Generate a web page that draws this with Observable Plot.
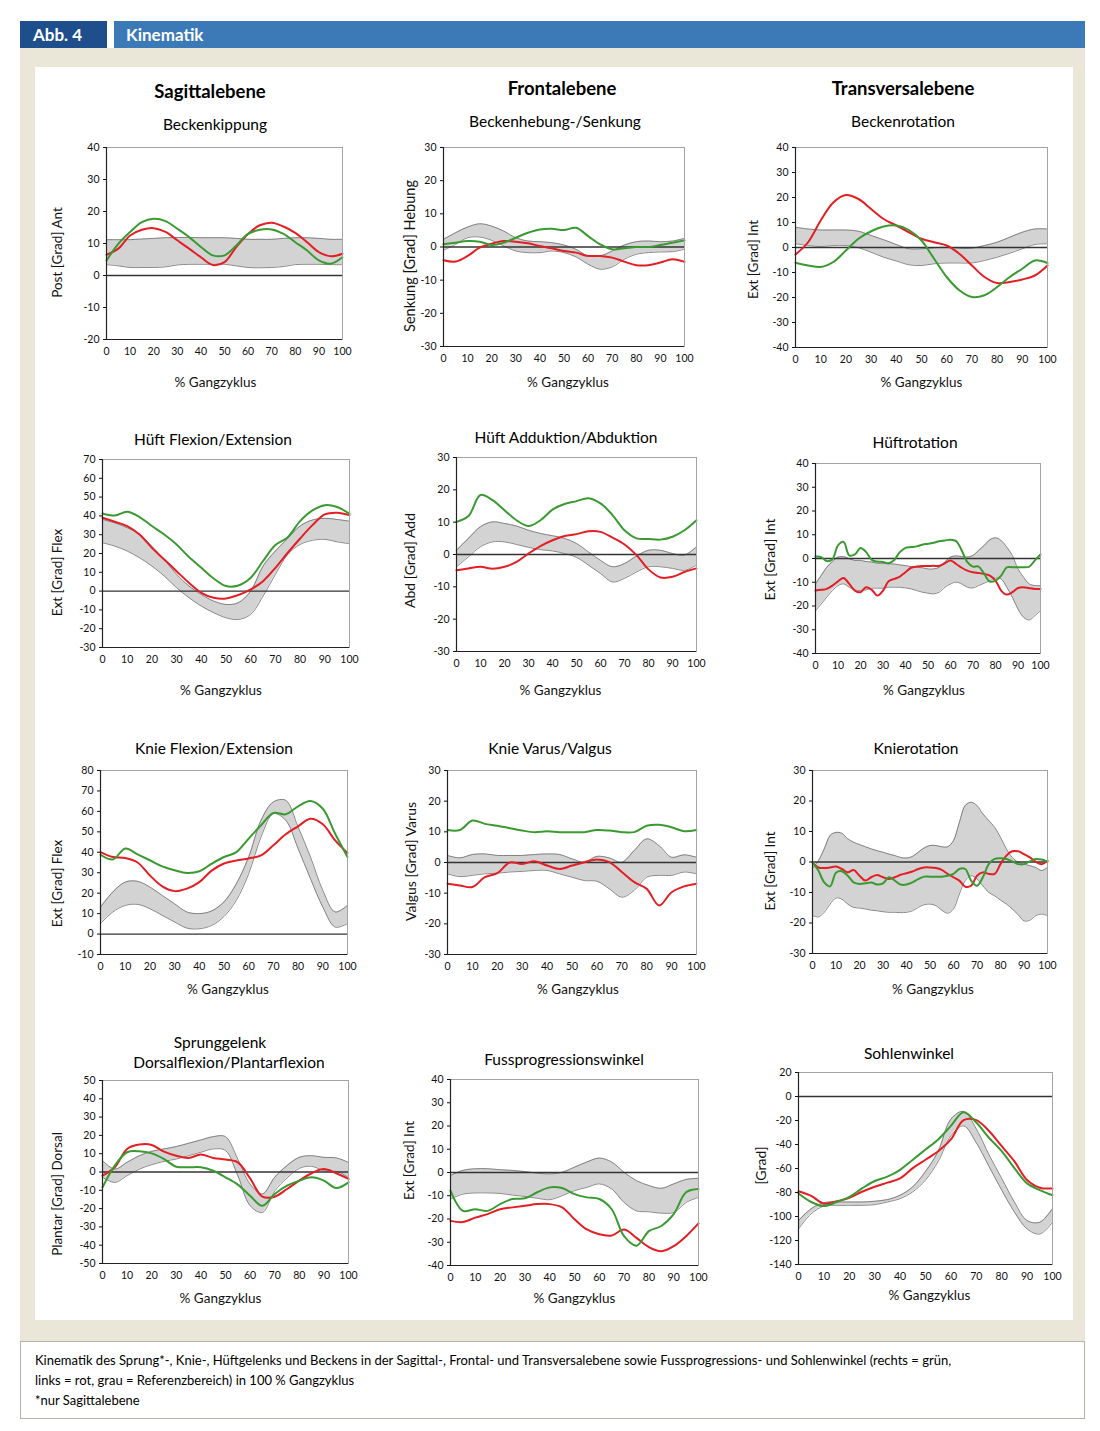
<!DOCTYPE html>
<html lang="de">
<head>
<meta charset="utf-8">
<script src="https://cdn.jsdelivr.net/npm/d3@7"></script>
<script src="https://cdn.jsdelivr.net/npm/@observablehq/plot@0.6"></script>
<style>
html,body{margin:0;padding:0;background:#fff;}
#page{position:relative;width:1100px;height:1431px;font-family:Lato,"Open Sans",sans-serif;color:#000;overflow:hidden;}
.abs{position:absolute;}
.title{position:absolute;transform:translate(-50%,-50%);white-space:nowrap;font-size:15.5px;line-height:1;}
.head{font-weight:bold;font-size:18.5px;}
</style>
</head>
<body>
<div id="page">
  <div class="abs" style="left:20px;top:48px;width:1065px;height:1293px;background:#ebe7d8;"></div>
  <div class="abs" style="left:35px;top:67px;width:1038px;height:1253px;background:#fff;"></div>
  <div class="abs" style="left:20px;top:1341px;width:1063px;height:76px;background:#fff;border:1px solid #b5b2a8;"></div>
  <div class="abs" style="left:20px;top:21px;width:87px;height:27px;background:#1e4e8c;"></div>
  <div class="abs" style="left:114px;top:21px;width:971px;height:27px;background:#3b79b7;"></div>
  <div class="abs" style="left:33px;top:21px;height:27px;line-height:27px;color:#fff;font-weight:bold;font-size:17px;">Abb. 4</div>
  <div class="abs" style="left:126px;top:21px;height:27px;line-height:27px;color:#fff;font-weight:bold;font-size:17px;">Kinematik</div>

  <div class="title head" style="left:210px;top:91px;">Sagittalebene</div>
  <div class="title head" style="left:562px;top:88px;">Frontalebene</div>
  <div class="title head" style="left:903px;top:88px;">Transversalebene</div>

  <div class="title" style="left:215px;top:125px;">Beckenkippung</div>
  <div class="title" style="left:555px;top:122px;">Beckenhebung-/Senkung</div>
  <div class="title" style="left:903px;top:122px;">Beckenrotation</div>
  <div class="title" style="left:213px;top:440px;">Hüft Flexion/Extension</div>
  <div class="title" style="left:566px;top:438px;">Hüft Adduktion/Abduktion</div>
  <div class="title" style="left:915px;top:443px;">Hüftrotation</div>
  <div class="title" style="left:214px;top:749px;">Knie Flexion/Extension</div>
  <div class="title" style="left:550px;top:749px;">Knie Varus/Valgus</div>
  <div class="title" style="left:916px;top:749px;">Knierotation</div>
  <div class="title" style="left:220px;top:1043px;">Sprunggelenk</div>
  <div class="title" style="left:229px;top:1063px;">Dorsalflexion/Plantarflexion</div>
  <div class="title" style="left:564px;top:1060px;">Fussprogressionswinkel</div>
  <div class="title" style="left:909px;top:1054px;">Sohlenwinkel</div>

  <div class="abs" style="left:35px;top:1350px;font-size:13px;line-height:20px;white-space:nowrap;">Kinematik des Sprung*-, Knie-, Hüftgelenks und Beckens in der Sagittal-, Frontal- und Transversalebene sowie Fussprogressions- und Sohlenwinkel (rechts = grün,<br>links = rot, grau = Referenzbereich) in 100 % Gangzyklus<br>*nur Sagittalebene</div>
</div>
<script>
// ---------- x positions (% Gangzyklus) ----------
const pct = [0,5,10,15,20,25,30,35,40,45,50,55,60,65,70,75,80,85,90,95,100];
const pctFine = [0,2.5,5,7.5,10,12.5,15,17.5,20,22.5,25,27.5,30,32.5,35,37.5,40,42.5,45,47.5,50,52.5,55,57.5,60,62.5,65,67.5,70,72.5,75,77.5,80,82.5,85,87.5,90,92.5,95,97.5,100];
const xTickValues = [0,10,20,30,40,50,60,70,80,90,100];

// ---------- Beckenkippung ----------
const kippRechts = [4.7,9.9,13.6,16.7,17.7,17.0,14.6,12.0,8.9,6.3,6.3,9.4,13.0,14.3,14.4,13.0,10.4,7.8,4.7,3.7,5.7];
const kippLinks  = [6.5,8.4,12.5,14.3,14.8,13.6,11.0,8.4,5.7,3.3,4.2,8.9,13.0,15.7,16.5,15.3,13.3,10.4,7.3,6.0,6.8];
const kippRefLo  = [3.4,3.0,2.5,2.5,2.5,2.7,3.3,3.5,3.5,3.5,3.5,3.0,2.5,2.4,2.5,2.8,3.4,3.5,3.5,3.4,3.4];
const kippRefHi  = [11.2,11.2,11.2,11.4,11.6,11.8,11.9,11.9,11.8,11.8,11.8,11.6,11.3,11.3,11.3,11.6,11.8,11.8,11.6,11.3,11.3];

// ---------- Beckenhebung-/Senkung ----------
const hebRechts = [0.8,1.3,1.8,1.6,0.6,1.3,2.8,4.3,5.3,5.5,5.1,5.8,3.3,0.8,-0.7,-0.4,0,0,0.6,1.3,2.0];
const hebLinks  = [-4.0,-4.4,-2.7,-0.2,1.0,1.8,1.6,1.1,0.3,-0.4,-1.2,-1.7,-2.7,-2.7,-3.2,-4.4,-5.5,-5.5,-4.7,-3.7,-4.5];
const hebRefLo  = [-1.0,0.8,2.8,3.0,2.0,0.3,-1.2,-1.7,-1.7,-1.2,-1.7,-3.0,-5.2,-6.7,-6.0,-3.7,-2.2,-1.7,-1.5,-1.4,-0.7];
const hebRefHi  = [2.3,4.3,6.0,7.0,6.3,4.8,2.8,1.8,1.6,1.3,0.6,-0.7,-2.7,-2.7,-1.2,0.6,1.6,1.8,1.6,1.8,2.6];

// ---------- Beckenrotation ----------
const rotRechts = [-6.1,-7.2,-7.8,-5.8,-1.2,3.5,6.5,8.4,8.8,7.0,2.8,-4.5,-11.8,-17.1,-19.8,-19.1,-15.8,-11.8,-8.5,-5.2,-6.2];
const rotLinks  = [-2.8,2.1,10.8,18.0,21.0,19.4,15.4,11.4,8.8,6.1,3.5,2.1,0.8,-2.5,-7.2,-11.8,-14.2,-13.8,-12.8,-11.2,-7.2];
const rotRefLo  = [1.5,0.8,0.4,0.8,0.8,-0.1,-1.9,-3.9,-5.4,-6.9,-7.2,-6.5,-6.2,-6.2,-6.2,-5.2,-3.9,-2.3,-0.5,1.2,1.5];
const rotRefHi  = [8.1,7.4,7.0,7.0,7.0,6.5,4.8,3.1,1.2,-0.5,-0.5,-0.1,0.1,-0.3,-0.3,0.8,2.1,4.1,6.1,7.4,7.4];

// ---------- Hüft Flexion/Extension ----------
const hflexRechts = [41.3,40.2,42.2,39.4,34.6,30.1,24.8,18.1,12.4,6.7,2.7,3.0,7.1,16.0,24.5,28.7,37.2,42.9,45.7,44.7,41.1];
const hflexLinks  = [39.0,36.9,34.6,30.1,23.0,16.8,10.6,4.4,-0.9,-3.5,-3.9,-2.1,0.9,5.3,12.4,20.4,28.0,35.1,40.8,41.7,40.4];
const hflexRefLo  = [25.7,23.9,21.3,17.7,13.3,8.0,1.8,-3.5,-8.0,-11.5,-14.2,-15.1,-12.4,-2.7,8.9,19.5,24.8,27.0,27.5,26.2,25.2];
const hflexRefHi  = [38.1,36.3,33.7,30.1,23.9,16.8,8.9,2.7,-1.8,-5.3,-7.1,-6.2,0,13.3,21.3,28.0,34.6,37.8,38.7,38.1,37.2];

// ---------- Hüft Adduktion/Abduktion ----------
const haddRechts = [10.1,11.9,18.4,16.8,13.7,10.6,8.8,10.6,13.9,15.6,16.5,17.4,15.8,12.2,7.5,5.0,4.8,4.6,5.5,7.5,10.6];
const haddLinks  = [-4.9,-4.3,-3.8,-4.4,-3.8,-2.3,0.3,2.6,4.4,5.7,6.3,7.2,7.0,5.2,3.1,-0.2,-4.6,-7.1,-6.9,-5.4,-4.3];
const haddRefLo  = [-3.8,-0.7,2.4,3.9,3.9,3.1,2.2,1.5,1.1,0.3,-0.9,-3.3,-5.9,-8.5,-7.4,-5.4,-3.8,-3.8,-4.3,-4.9,-3.3];
const haddRefHi  = [1.3,5.0,8.6,10.1,9.6,8.8,7.5,6.5,5.8,5.0,3.4,0.8,-1.8,-3.8,-2.8,-0.5,1.3,1.3,0.3,-0.2,2.4];

// ---------- Hüftrotation (2.5 %-Schritte) ----------
const hrotRechts = [0.8,0.6,-1.1,-0.3,5.5,7.0,1.3,1.7,4.4,2.7,-0.6,-1.3,-1.5,-2.0,-0.6,2.7,4.5,4.8,5.1,5.8,6.2,6.6,7.3,7.6,7.9,7.3,3.4,-1.5,-3.4,-3.4,-6.5,-9.7,-9.3,-7.2,-3.7,-3.7,-3.7,-3.7,-3.4,-0.8,1.7];
const hrotLinks  = [-13.5,-13.2,-12.8,-11.4,-9.6,-8.2,-10.7,-13.5,-14.2,-12.1,-13.2,-15.6,-13.5,-9.6,-8.6,-7.6,-5.8,-3.9,-3.4,-3.2,-3.2,-3.1,-3.1,-2.0,-0.8,-2.3,-3.9,-5.1,-5.8,-6.1,-6.5,-7.2,-9.3,-13.5,-15.2,-14.2,-12.4,-12.1,-12.5,-12.8,-12.8];
const hrotRefLo  = [-22.0,-19.2,-16.3,-13.5,-11.4,-10.7,-12.1,-13.2,-13.5,-13.2,-12.5,-12.5,-12.5,-12.1,-12.1,-12.1,-12.4,-12.8,-13.5,-14.2,-14.6,-14.9,-14.2,-12.1,-10.7,-10.0,-10.7,-12.1,-12.4,-11.4,-10.4,-9.3,-8.2,-8.6,-12.1,-16.3,-21.3,-24.8,-25.9,-24.1,-22.0];
const hrotRefHi  = [-10.7,-7.2,-3.7,-1.3,0.6,0.8,-0.1,-0.8,-0.8,-1.3,-1.5,-2.0,-2.0,-2.3,-2.3,-2.7,-3.0,-3.4,-3.7,-3.9,-4.4,-4.4,-3.7,-1.5,0.6,1.1,0.8,0.6,1.3,3.4,5.5,7.9,8.7,7.6,4.8,1.3,-4.4,-7.9,-10.7,-11.4,-11.4];

// ---------- Knie Flexion/Extension ----------
const kflexRechts = [38.8,36.5,41.8,39.0,36.1,33.1,31.2,29.9,30.7,34.4,37.7,40.1,46.7,53.2,59.2,58.6,62.5,65.1,61.3,49.1,37.7];
const kflexLinks  = [40.1,37.7,37.2,35.0,28.7,23.3,21.0,22.2,25.4,31.0,34.5,36.0,37.0,38.5,43.4,48.8,52.7,56.4,53.7,45.8,39.6];
const kflexRefLo  = [5.1,10.8,14.0,14.5,12.4,9.1,5.9,2.9,2.6,4.2,8.6,16.5,29.5,47.5,58.9,55.6,41.8,27.1,13.2,3.4,5.1];
const kflexRefHi  = [13.2,20.6,25.4,25.8,23.0,18.9,14.8,10.8,10.0,11.3,15.7,24.6,37.7,55.6,64.6,65.4,52.4,37.7,21.4,10.8,14.0];

// ---------- Knie Varus/Valgus ----------
const kvarRechts = [10.6,10.6,13.7,12.6,12.0,11.2,10.4,9.9,10.2,9.9,9.9,9.9,10.6,10.4,9.9,9.9,12.0,12.3,11.5,10.2,10.6];
const kvarLinks  = [-6.9,-7.5,-8.0,-4.8,-3.5,0.0,-0.5,0.4,-1.0,-2.1,-1.0,0.1,1.0,0.1,-3.1,-6.4,-8.6,-14.0,-9.7,-7.8,-6.9];
const kvarRefLo  = [-3.7,-4.6,-4.2,-3.7,-3.5,-3.1,-2.9,-2.6,-2.6,-3.7,-4.8,-5.9,-6.1,-8.6,-11.3,-9.1,-4.8,-4.2,-4.2,-3.1,-3.7];
const kvarRefHi  = [2.3,1.5,2.6,2.8,2.3,2.3,2.3,2.6,2.8,2.6,1.2,0.1,2.0,1.5,0.1,3.9,7.7,5.5,1.7,2.5,1.7];

// ---------- Knierotation (2.5 %-Schritte) ----------
const krotRechts = [-0.1,-2.8,-6.7,-8.0,-3.5,-3.0,-4.5,-6.7,-7.2,-7.0,-6.7,-7.4,-7.0,-5.0,-6.1,-7.4,-7.4,-6.7,-5.6,-4.8,-4.8,-4.8,-4.8,-4.5,-3.9,-2.3,-2.3,-6.1,-7.8,-5.0,-0.7,1.0,1.2,1.0,0.2,-0.7,-0.7,0.2,1.0,0.8,0.1];
const krotLinks  = [-0.1,-1.8,-2.0,-1.8,-1.5,-2.3,-3.4,-2.6,-4.5,-6.1,-5.0,-4.3,-5.0,-5.6,-5.0,-4.2,-3.7,-3.1,-2.3,-1.8,-1.8,-2.0,-2.6,-3.9,-5.0,-6.1,-8.1,-7.8,-4.5,-3.4,-3.9,-3.9,-0.7,2.1,3.5,3.5,2.6,1.5,0.1,-0.7,0.4];
const krotRefLo  = [-17.6,-18.0,-16.5,-13.8,-11.8,-12.2,-13.8,-14.9,-15.1,-15.4,-15.8,-16.0,-16.3,-16.5,-16.5,-16.6,-16.5,-16.0,-14.9,-14.0,-13.8,-14.3,-15.8,-16.8,-15.4,-10.5,-6.1,-4.5,-5.6,-7.8,-10.0,-11.1,-12.5,-13.8,-15.4,-17.3,-19.3,-19.1,-17.6,-17.1,-17.6];
const krotRefHi  = [-2.0,0.4,4.3,8.7,9.7,9.4,7.6,6.5,5.7,5.0,4.3,3.7,3.2,2.6,2.1,1.5,1.3,1.8,3.2,4.6,5.4,5.4,5.0,5.0,7.0,13.0,18.5,19.6,18.5,15.8,13.6,11.4,8.1,4.3,1.5,-0.1,-0.7,-1.2,-1.8,-2.8,-1.8];

// ---------- Sprunggelenk Dorsal-/Plantarflexion ----------
const oshgRechts = [-8.4,3.5,10.8,11.3,10.2,7.1,2.9,2.6,2.6,0.7,-2.9,-6.9,-13.0,-18.4,-12.0,-7.5,-4.7,-2.9,-4.7,-8.8,-5.7];
const oshgLinks  = [-2.0,2.6,12.6,15.0,14.8,11.1,8.9,7.7,9.5,7.7,6.8,5.3,-3.5,-13.5,-13.5,-9.3,-4.7,-0.7,1.6,-0.7,-3.8];
const oshgRefLo  = [-2.9,-5.7,-2.0,1.6,4.0,5.8,7.1,8.9,10.8,12.6,11.7,-2.0,-18.4,-22.1,-10.4,-3.3,2.0,3.1,0.7,0.4,-2.9];
const oshgRefHi  = [6.2,1.6,5.3,8.9,11.3,12.6,13.9,15.7,17.5,19.3,19.3,7.0,-6.6,-12.0,-2.9,3.5,8.0,8.9,8.0,7.7,5.3];

// ---------- Fussprogressionswinkel ----------
const fpwRechts = [-7.8,-16.5,-15.8,-16.5,-13.6,-11.4,-11.1,-8.5,-6.4,-6.7,-9.3,-10.7,-11.4,-15.8,-27.4,-31.5,-25.2,-23.0,-17.9,-8.5,-7.1];
const fpwLinks  = [-20.8,-21.3,-19.4,-17.9,-15.8,-15.0,-14.3,-13.6,-13.6,-15.0,-20.1,-24.5,-26.6,-27.1,-24.5,-28.1,-32.1,-33.9,-31.7,-27.4,-21.9];
const fpwRefLo  = [-11.4,-9.3,-8.8,-8.8,-9.0,-9.7,-10.3,-11.1,-11.7,-10.0,-7.8,-6.4,-4.9,-7.1,-12.9,-16.5,-16.9,-17.5,-17.2,-12.9,-10.7];
const fpwRefHi  = [-1.3,0.9,1.6,1.6,1.2,0.9,0.4,-0.3,-0.6,0.1,2.3,4.5,6.2,4.5,0.1,-3.5,-5.6,-6.8,-4.9,-3.0,-2.5];

// ---------- Sohlenwinkel ----------
const sohleRechts = [-80.8,-87.9,-91.3,-87.9,-83.7,-76.6,-70.4,-66.8,-61.1,-52.7,-44.2,-35.8,-24.5,-13.2,-21.7,-34.4,-45.6,-59.7,-72.4,-78.0,-82.3];
const sohleLinks  = [-78.9,-82.8,-89.3,-87.3,-84.5,-79.4,-75.2,-71.8,-68.2,-59.7,-52.7,-45.6,-35.8,-19.7,-19.7,-28.7,-41.4,-54.0,-69.6,-76.0,-76.6];
const sohleRefLo  = [-110.4,-97.7,-91.3,-90.7,-90.7,-90.7,-90.1,-87.9,-85.1,-79.4,-69.6,-54.1,-32.7,-24.5,-38.6,-58.3,-78.0,-96.3,-110.4,-114.6,-104.8];
const sohleRefHi  = [-103.4,-93.5,-88.5,-87.9,-87.9,-87.9,-87.3,-85.9,-82.3,-75.2,-62.5,-45.6,-18.9,-12.4,-27.0,-48.5,-68.2,-87.9,-103.4,-104.8,-93.5];

// ---------- axis labels ----------
const yLabels = ["Post [Grad] Ant","Senkung [Grad] Hebung","Ext [Grad] Int","Ext [Grad] Flex","Abd [Grad] Add","Ext [Grad] Int","Ext [Grad] Flex","Valgus [Grad] Varus","Ext [Grad] Int","Plantar [Grad] Dorsal","Ext [Grad] Int","[Grad]"];
const xLabel = "% Gangzyklus";

const GREEN = "#3a9a32", RED = "#e31e24";

const panels = [
  {x:pct, g:kippRechts, r:kippLinks, lo:kippRefLo, hi:kippRefHi, yd:[-20,40], step:10, frame:[106,147,342,339], ldx:-49, ldy:9, lfs:13.5, xdy:43, xdx:-9},
  {x:pct, g:hebRechts, r:hebLinks, lo:hebRefLo, hi:hebRefHi, yd:[-30,30], step:10, frame:[443,147,684,346], ldx:-33, ldy:9, lfs:14.5, xdy:36, xdx:4},
  {x:pct, g:rotRechts, r:rotLinks, lo:rotRefLo, hi:rotRefHi, yd:[-40,40], step:10, frame:[795,147,1047,347], ldx:-42, ldy:12, lfs:13.5, xdy:35, xdx:0},
  {x:pct, g:hflexRechts, r:hflexLinks, lo:hflexRefLo, hi:hflexRefHi, yd:[-30,70], step:10, frame:[102,459,349,647], ldx:-45, ldy:19, lfs:13.5, xdy:43, xdx:-5},
  {x:pct, g:haddRechts, r:haddLinks, lo:haddRefLo, hi:haddRefHi, yd:[-30,30], step:10, frame:[456,457,696,651], ldx:-46, ldy:6, lfs:14, xdy:39, xdx:-16},
  {x:pctFine, g:hrotRechts, r:hrotLinks, lo:hrotRefLo, hi:hrotRefHi, yd:[-40,40], step:10, frame:[815,463,1040,653], ldx:-45, ldy:1, lfs:14, xdy:37, xdx:-4},
  {x:pct, g:kflexRechts, r:kflexLinks, lo:kflexRefLo, hi:kflexRefHi, yd:[-10,80], step:10, frame:[100,770,347,954], ldx:-43, ldy:21, lfs:13.5, xdy:35, xdx:4},
  {x:pct, g:kvarRechts, r:kvarLinks, lo:kvarRefLo, hi:kvarRefHi, yd:[-30,30], step:10, frame:[447,770,696,954], ldx:-36, ldy:-1, lfs:14, xdy:35, xdx:6},
  {x:pctFine, g:krotRechts, r:krotLinks, lo:krotRefLo, hi:krotRefHi, yd:[-30,30], step:10, frame:[812,770,1047,953], ldx:-42, ldy:9, lfs:13.5, xdy:36, xdx:3},
  {x:pct, g:oshgRechts, r:oshgLinks, lo:oshgRefLo, hi:oshgRefHi, yd:[-50,50], step:10, frame:[102,1080,348,1263], ldx:-45, ldy:22, lfs:13.5, xdy:35, xdx:-5},
  {x:pct, g:fpwRechts, r:fpwLinks, lo:fpwRefLo, hi:fpwRefHi, yd:[-40,40], step:10, frame:[450,1079,698,1265], ldx:-41, ldy:-12, lfs:13.5, xdy:33, xdx:0},
  {x:pct, g:sohleRechts, r:sohleLinks, lo:sohleRefLo, hi:sohleRefHi, yd:[-140,20], step:20, frame:[798,1072,1052,1264], ldx:-37, ldy:-3, lfs:14, xdy:31, xdx:4}
];

const ML = 62, MR = 14, MT = 10, MB = 54;
const page = document.getElementById("page");
const curve = "catmull-rom";

panels.forEach((p, k) => {
  const [fl, ft, fr, fb] = p.frame;
  const rows = p.x.map((x, i) => ({x, g: p.g[i], r: p.r[i], lo: p.lo[i], hi: p.hi[i]}));
  const [y0, y1] = p.yd;
  const yTicks = d3.range(y0, y1 + 0.001, p.step);
  const svg = Plot.plot({
    width: fr - fl + ML + MR,
    height: fb - ft + MT + MB,
    marginLeft: ML, marginRight: MR, marginTop: MT, marginBottom: MB,
    style: {background: "transparent", fontFamily: "Lato, 'Open Sans', sans-serif", fontSize: "10.5px", color: "#111", overflow: "visible"},
    x: {domain: [0, 100]},
    y: {domain: p.yd},
    marks: [
      Plot.areaY(rows, {x: "x", y1: "lo", y2: "hi", fill: "#d3d3d3", curve}),
      Plot.line(rows, {x: "x", y: "lo", stroke: "#6c6c6c", strokeWidth: 0.8, curve}),
      Plot.line(rows, {x: "x", y: "hi", stroke: "#6c6c6c", strokeWidth: 0.8, curve}),
      Plot.ruleY([0], {stroke: "#333", strokeWidth: 1.3}),
      Plot.line(rows, {x: "x", y: "r", stroke: RED, strokeWidth: 2, curve}),
      Plot.line(rows, {x: "x", y: "g", stroke: GREEN, strokeWidth: 2, curve}),
      Plot.frame({stroke: "#a3a3a3"}),
      Plot.ruleX([0], {stroke: "#222", strokeWidth: 1.2}),
      Plot.ruleY([y0], {stroke: "#222", strokeWidth: 1.2}),
      Plot.axisY({ticks: yTicks, tickSize: 3, tickPadding: 4, tickFormat: d => String(d), label: null}),
      Plot.axisX({ticks: xTickValues, tickSize: 0, tickPadding: 8, tickFormat: d => String(d), label: null}),
      Plot.text([yLabels[k]], {text: d => d, frameAnchor: "left", textAnchor: "middle", lineAnchor: "middle", rotate: -90, dx: p.ldx, dy: p.ldy, fontSize: p.lfs, fill: "#111"}),
      Plot.text([xLabel], {text: d => d, frameAnchor: "bottom", textAnchor: "middle", lineAnchor: "middle", dy: p.xdy, dx: p.xdx, fontSize: 13.5, fill: "#111"})
    ]
  });
  svg.style.position = "absolute";
  svg.style.left = (fl - ML) + "px";
  svg.style.top = (ft - MT) + "px";
  svg.style.maxWidth = "none";
  page.appendChild(svg);
});
</script>
</body>
</html>
